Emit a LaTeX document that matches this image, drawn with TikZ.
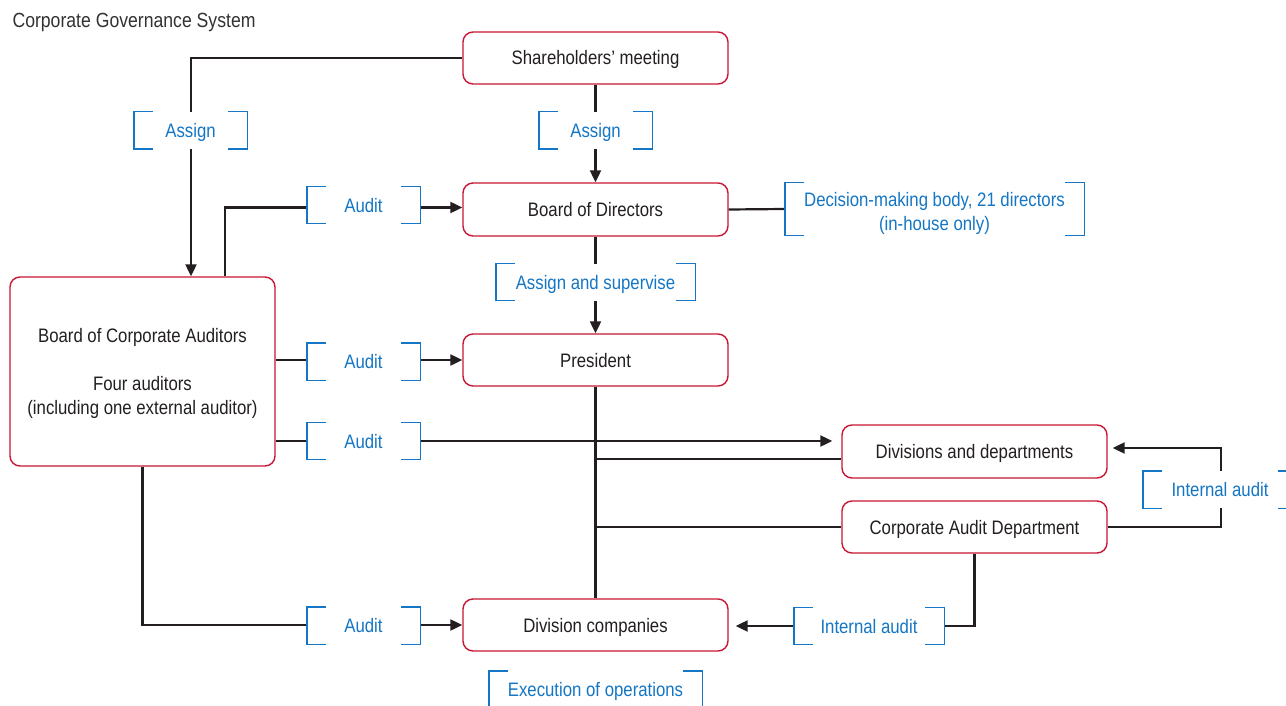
\documentclass[tikz,border=0pt]{standalone}
\usepackage{fontspec}
\setmainfont{Liberation Sans}[FakeStretch=0.86]
\usetikzlibrary{arrows.meta}
\definecolor{boxred}{RGB}{200,22,52}
\definecolor{tagblue}{RGB}{20,118,196}
\definecolor{ink}{RGB}{35,31,32}
\tikzset{
  unit/.style={rectangle, rounded corners=10pt, draw=boxred, line width=1.4pt,
    fill=white, text=ink, minimum width=265pt, minimum height=52pt, inner sep=0pt,
    text height=14pt, text depth=0pt},
  tag/.style={rectangle, fill=white, text=tagblue, minimum height=37pt, inner sep=0pt,
    text height=14pt, text depth=0pt},
  multi/.style={text height={}, text depth={}},
  brk/.style={draw=tagblue, line width=1.4pt},
  link/.style={draw=ink, line width=2.2pt},
  arr/.style={link, -{Triangle[length=12pt,width=11pt]}},
}
% square brackets drawn at both sides of a tag node
\newcommand\tagbrackets[1]{%
  \draw[brk] ([xshift=19pt]#1.north west) -- (#1.north west) -- (#1.south west) -- ([xshift=19pt]#1.south west);
  \draw[brk] ([xshift=-19pt]#1.north east) -- (#1.north east) -- (#1.south east) -- ([xshift=-19pt]#1.south east);}
% centred stack of lines, lowered by #1 without changing its size
\newcommand\lines[2]{\raisebox{-#1}[\height][\depth]{\begin{tabular}{@{}c@{}}#2\end{tabular}}}
\begin{document}
\begin{tikzpicture}[x=1pt,y=-1pt,font=\fontsize{19.5}{24}\selectfont]
\useasboundingbox (0,0) rectangle (1286,706);
\clip (0,0) rectangle (1286,706);

\node[anchor=base west, text={rgb,255:red,50;green,50;blue,50}, font=\fontsize{20.5}{24}\selectfont]
  (title) at (9,28) {Corporate Governance System};

% organisational units
\node[unit] (sh) at (595.5,58) {Shareholders’ meeting};
\node[unit, minimum height=53pt] (bod) at (595.5,209.5) {Board of Directors};
\node[unit] (pres) at (595.5,360) {President};
\node[unit] (divco) at (595.5,625) {Division companies};
\node[unit, multi, minimum height=189pt] (aud) at (142.5,371.5)
  {\lines{2pt}{Board of Corporate Auditors\\[24pt]Four auditors\\(including one external auditor)}};
\node[unit, minimum height=53pt] (divdep) at (974.5,451.5) {Divisions and departments};
\node[unit] (cad) at (974.5,527) {Corporate Audit Department};

% connectors
\draw[arr] (sh.west) -| ([xshift=48.5pt]aud.north);
\draw[arr] (sh.south) -- (bod.north);
\draw[arr] ([xshift=82.5pt]aud.north) |- ([yshift=2pt]bod.west);
\draw[arr] (bod.south) -- (pres.north);
\draw[arr] (aud.east |- pres.west) -- (pres.west);
\coordinate (a7) at ([yshift=-69.5pt]aud.east);
\draw[arr, shorten >=9pt] (a7) -- (a7 -| divdep.west);
\draw[link] (pres.south) -- (divco.north);
\draw[link] (pres.south |- 0,459) -- ([yshift=-7.5pt]divdep.west);
\draw[link] (pres.south |- cad.west) -- (cad.west);
\draw[arr] (aud.south) |- (divco.west);
\draw[arr, shorten >=5pt] (cad.east) -- ++(113,0) |- ([yshift=3.5pt]divdep.east);
\draw[arr, shorten >=7pt] (cad.south) |- ([yshift=-1pt]divco.east);

% bracketed labels on the connectors
\node[tag, multi, minimum width=299pt, minimum height=52pt] (dec) at (934.5,209)
  {\lines{5pt}{Decision-making body, 21 directors\\(in-house only)}};
\draw[link] (bod.east) -- (dec.west);
\node[tag, minimum width=113pt] (t1) at (190.5,130.5) {Assign};
\node[tag, minimum width=113pt] (t2) at (595.5,130.5) {Assign};
\node[tag, minimum width=113pt] (t3) at (363.5,205) {Audit};
\node[tag, minimum width=199pt] (t4) at (595.5,282) {Assign and supervise};
\node[tag, minimum width=113pt] (t5) at (363.5,361.5) {Audit};
\node[tag, minimum width=113pt] (t6) at (363.5,441) {Audit};
\node[tag, minimum width=113pt] (t7) at (363.5,625.5) {Audit};
\node[tag, minimum width=150pt] (t8) at (869,626) {Internal audit};
\node[tag, minimum width=154pt] (t9) at (1220,489.5) {Internal audit};
\node[tag, minimum width=213pt] (t10) at (595.5,689.5) {Execution of operations};
\foreach \t in {dec,t1,t2,t3,t4,t5,t6,t7,t8,t9,t10} {\tagbrackets{\t}}
\end{tikzpicture}
\end{document}
